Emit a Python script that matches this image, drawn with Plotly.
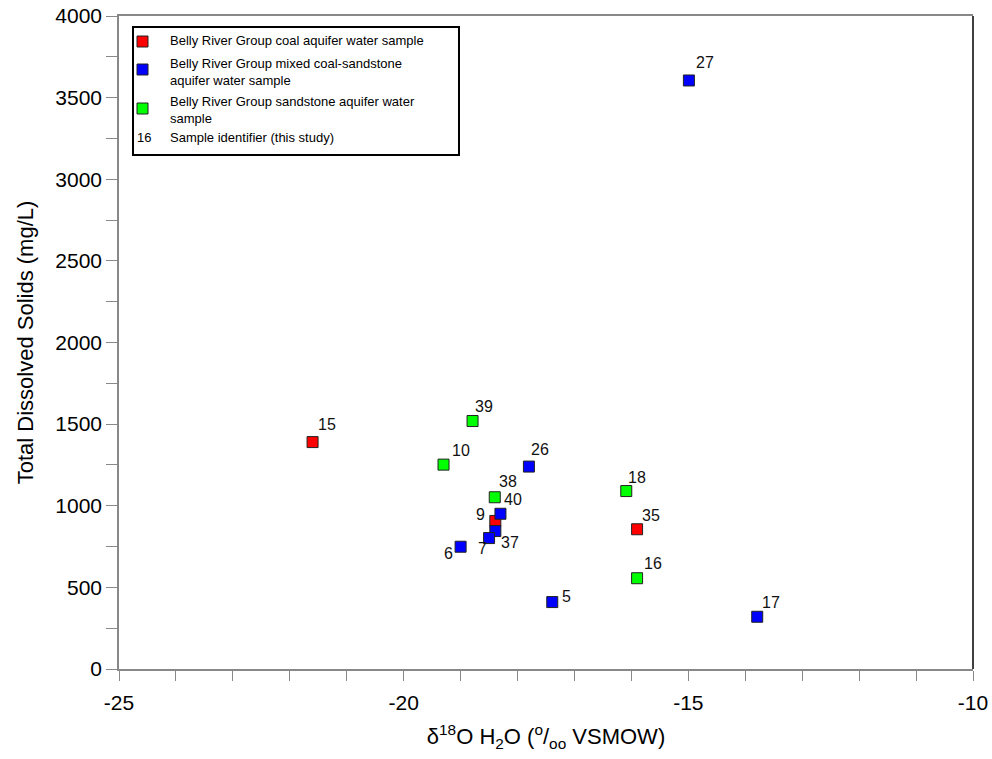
import plotly.graph_objects as go

# ---- data ----
coal_ids = ["15", "9", "35"]
coal_x = [-21.60, -18.39, -15.90]
coal_y = [1390, 907, 856]

mixed_ids = ["27", "26", "40", "37", "7", "6", "5", "17"]
mixed_x = [-14.99, -17.80, -18.30, -18.39, -18.50, -19.00, -17.39, -13.79]
mixed_y = [3605, 1240, 951, 845, 802, 749, 410, 320]

sand_ids = ["39", "10", "38", "18", "16"]
sand_x = [-18.79, -19.30, -18.40, -16.09, -15.90]
sand_y = [1519, 1252, 1052, 1090, 556]

x_tickvals = [-25, -20, -15, -10]
x_ticktext = ["-25", "-20", "-15", "-10"]
y_tickvals = [0, 500, 1000, 1500, 2000, 2500, 3000, 3500, 4000]
y_ticktext = ["0", "500", "1000", "1500", "2000", "2500", "3000", "3500", "4000"]

legend_labels = [
    "Belly River Group coal aquifer water sample",
    "Belly River Group mixed coal-sandstone<br>aquifer water sample",
    "Belly River Group sandstone aquifer water<br>sample",
    "Sample identifier (this study)",
]

x_title = "δ<sup>18</sup>O H<sub>2</sub>O (<sup>o</sup>/<sub>oo</sub> VSMOW)"
y_title = "Total Dissolved Solids (mg/L)"

# label offsets in pixels (dx right, dy down) per sample id
label_offsets = {
    "15": (14, -18), "27": (16, -18), "39": (11, -15), "10": (17, -14),
    "26": (11, -17), "38": (13, -16), "40": (13, -14), "9": (-15, -6),
    "37": (15, 11), "7": (-7, 10), "6": (-12, 7), "18": (11, -14),
    "35": (14, -14), "16": (16, -15), "17": (14, -14), "5": (14, -6),
}

W, H = 992, 759
L, R, T, B = 119, 19, 16, 90
PW, PH = W - L - R, H - T - B


def px(xp):
    return (xp - L) / PW


def py(yp):
    return (T + PH - yp) / PH


FONT = "Liberation Sans, Arial, sans-serif"
COL = {"coal": "#ff0000", "mixed": "#0000ff", "sand": "#00ff00"}

fig = go.Figure()
groups = [
    ("coal", coal_ids, coal_x, coal_y),
    ("mixed", mixed_ids, mixed_x, mixed_y),
    ("sand", sand_ids, sand_x, sand_y),
]
annotations = []
for key, ids, xs, ys in groups:
    fig.add_trace(go.Scatter(
        x=xs, y=ys, mode="markers", showlegend=False,
        marker=dict(symbol="square", size=11, color=COL[key],
                    line=dict(color="#222222", width=1)),
    ))
    for i, xv, yv in zip(ids, xs, ys):
        dx, dy = label_offsets[i]
        annotations.append(dict(
            x=xv, y=yv, xref="x", yref="y", text=i, showarrow=False,
            xshift=dx, yshift=-dy, font=dict(family=FONT, size=16, color="#111111"),
        ))

# ---- manual legend ----
shapes = [
    dict(type="rect", xref="paper", yref="paper",
         x0=px(133), x1=px(459), y0=py(155), y1=py(27),
         line=dict(color="black", width=2), fillcolor="white", layer="above"),
    # right frame edge (black)
    dict(type="line", xref="paper", yref="paper", x0=1, x1=1, y0=0, y1=1,
         line=dict(color="black", width=1.5)),
]
sq = [(142.5, 41.5, COL["coal"]), (142.5, 69.5, COL["mixed"]), (142.5, 108.5, COL["sand"])]
for cx, cy, c in sq:
    shapes.append(dict(type="rect", xref="paper", yref="paper",
                       x0=px(cx - 5.5), x1=px(cx + 5.5), y0=py(cy + 5.5), y1=py(cy - 5.5),
                       fillcolor=c, line=dict(color="#222222", width=1), layer="above"))

text_rows = [(41, legend_labels[0]), (72, legend_labels[1]), (110, legend_labels[2]), (137, legend_labels[3])]
for yc, txt in text_rows:
    annotations.append(dict(
        x=px(168), y=py(yc), xref="paper", yref="paper", text=txt,
        showarrow=False, xanchor="left", yanchor="middle", align="left",
        font=dict(family=FONT, size=13, color="black"),
    ))
annotations.append(dict(
    x=px(143.5), y=py(137), xref="paper", yref="paper", text="16",
    showarrow=False, xanchor="center", yanchor="middle",
    font=dict(family=FONT, size=13, color="black"),
))

fig.update_layout(
    width=W, height=H,
    margin=dict(l=L, r=R, t=T, b=B, autoexpand=False),
    paper_bgcolor="white", plot_bgcolor="white",
    font=dict(family=FONT, color="black"),
    shapes=shapes, annotations=annotations,
    xaxis=dict(
        range=[-25, -10], tickmode="array", tickvals=x_tickvals, ticktext=x_ticktext,
        ticks="outside", ticklen=10, automargin=False, ticklabelstandoff=4,
        tickcolor="#888888", showgrid=False, zeroline=False,
        showline=True, linecolor="#888888", linewidth=1.5, mirror=True,
        tickfont=dict(size=21, family=FONT),
        minor=dict(dtick=1, tick0=-25, ticks="outside", ticklen=10, tickcolor="#888888", showgrid=False),
        title=dict(text=x_title, font=dict(size=22, family=FONT), standoff=16),
    ),
    yaxis=dict(
        range=[0, 4000], tickmode="array", tickvals=y_tickvals, ticktext=y_ticktext,
        ticks="outside", ticklen=11, automargin=False,
        tickcolor="#888888", showgrid=False, zeroline=False,
        showline=True, linecolor="#888888", linewidth=1.5,
        tickfont=dict(size=21, family=FONT),
        minor=dict(dtick=250, tick0=0, ticks="outside", ticklen=11, tickcolor="#888888", showgrid=False),
        title=dict(text=y_title, font=dict(size=22, family=FONT), standoff=16),
    ),
)

fig.write_html("out.html")
